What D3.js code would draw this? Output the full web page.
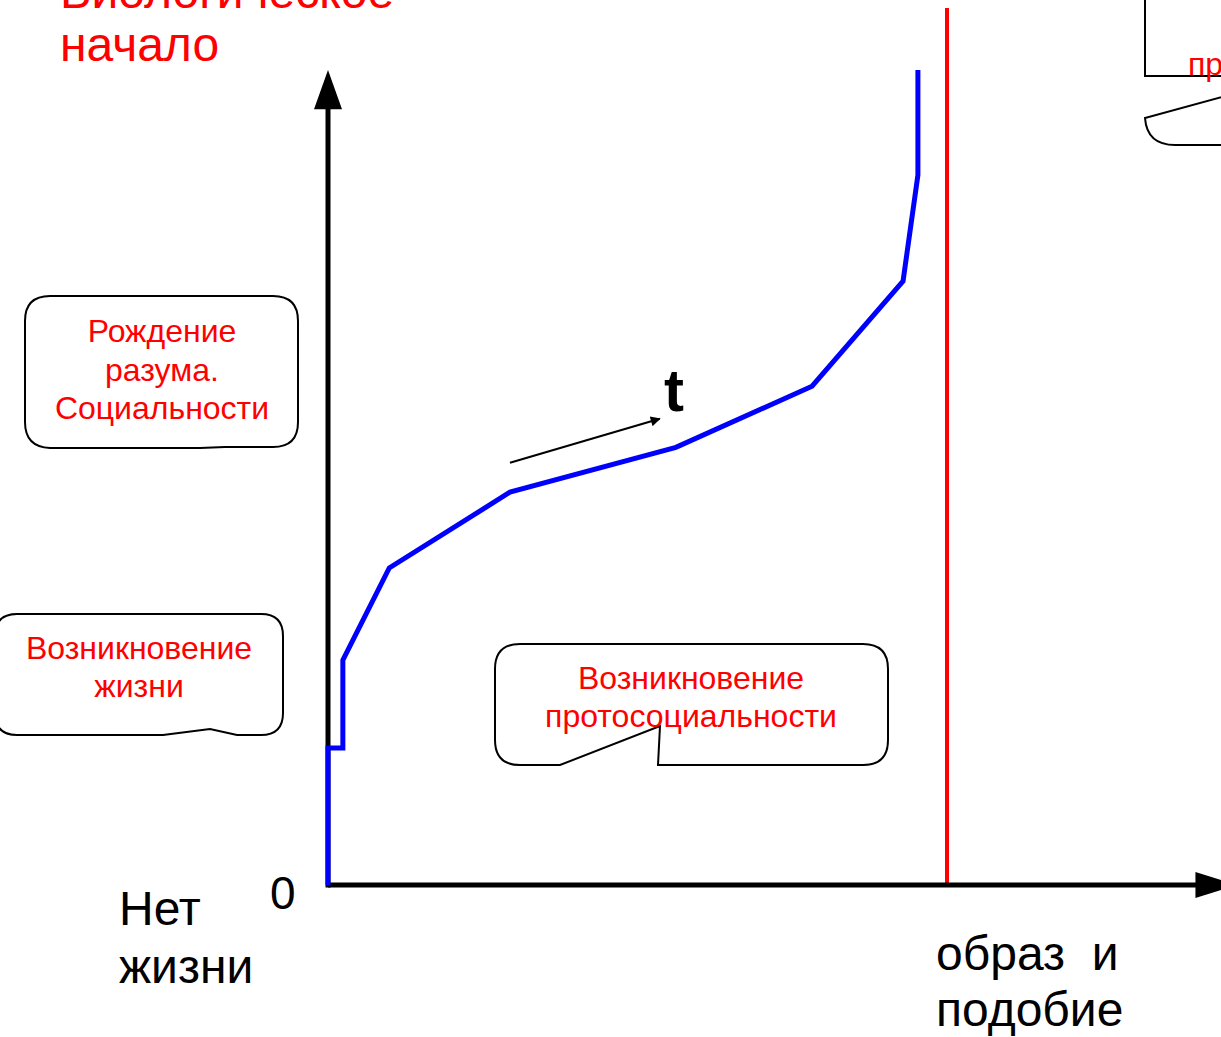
<!DOCTYPE html>
<html><head><meta charset="utf-8">
<script src="https://cdn.jsdelivr.net/npm/d3@7"></script>
<style>
html,body{margin:0;padding:0;background:#fff;overflow:hidden;}
svg{display:block;font-family:"Liberation Sans",Arial,sans-serif;}
text{white-space:pre;}
</style></head>
<body>
<svg id="chart" width="1221" height="1037"></svg>
<script>
// ---- data ----
const stageX = [0, 0, 2.4, 2.4, 9.9, 29.4, 56.2, 78.2, 92.9, 95.3, 95.3];
const stageY = [0, 16.8, 16.8, 27.6, 38.9, 48.2, 53.7, 61.2, 74.1, 87.1, 100];
const limitX = 100;           // "образ и подобие"
const limitTop = 107.6;
const originLabel = "0";
const xStartLabel = ["Нет", "жизни"];
const xLimitLabel = ["образ  и", "подобие"];
const yTitle = ["Биологическое", "начало"];
const timeLabel = "t";
const calloutLife = ["Возникновение", "жизни"];
const calloutMind = ["Рождение", "разума.", "Социальности"];
const calloutProto = ["Возникновение", "протосоциальности"];
const calloutTop = ["пр"];

const svg = d3.select("#chart");
const x = d3.scaleLinear().domain([0, 100]).range([328, 947]);
const y = d3.scaleLinear().domain([0, 100]).range([885, 70]);

// title (partly cut, as in the reference)
svg.append("g").selectAll("text").data(yTitle).join("text")
  .attr("x", 60).attr("y", (d, i) => 8 + i * 53)
  .attr("font-size", 48).attr("fill", "#ff0000").text(d => d);

// callout shapes
const ink = {fill: "#fff", stroke: "#000", "stroke-width": 2};
function shape(d) {
  const p = svg.append("path").attr("d", d);
  Object.entries(ink).forEach(([k, v]) => p.attr(k, v));
  return p;
}
shape("M50,296 H273 Q298,296 298,321 V422 Q298,447 273,447 H225 L200,448 H50 Q25,447 25,422 V321 Q25,296 50,296 Z");
shape("M17,614 H261 Q283,614 283,636 V713 Q283,735 261,735 H237 L210,729 L163,735 H17 Q-5,735 -5,713 V636 Q-5,614 17,614 Z");
shape("M520,644 H863 Q888,644 888,669 V740 Q888,765 863,765 H658 L660,726 L560,765 H520 Q495,765 495,740 V669 Q495,644 520,644 Z");
shape("M1240,-20 H1165 Q1145,-20 1145,0 V76 H1240");
shape("M1240,92 L1145,118 Q1147,145 1175,145 H1240");

function lines(arr, cx, y0, dy, size, color, anchor) {
  svg.append("g").selectAll("text").data(arr).join("text")
    .attr("x", cx).attr("y", (d, i) => y0 + i * dy)
    .attr("text-anchor", anchor || "middle")
    .attr("font-size", size).attr("fill", color).text(d => d);
}
lines(calloutMind, 162, 342, 38.5, 32, "#ff0000");
lines(calloutLife, 139, 659, 38, 32, "#ff0000");
lines(calloutProto, 691, 689, 38, 32, "#ff0000");
lines(calloutTop, 1188, 75, 38, 32, "#ff0000", "start");

// red limit line
svg.append("line")
  .attr("x1", x(limitX)).attr("x2", x(limitX))
  .attr("y1", y(0)).attr("y2", y(limitTop))
  .attr("stroke", "#ff0000").attr("stroke-width", 4);

// axes
const axisEndX = x(140.3), axisEndY = y(95.3);
svg.append("line").attr("x1", x(0)).attr("x2", axisEndX).attr("y1", y(0)).attr("y2", y(0))
  .attr("stroke", "#000").attr("stroke-width", 5);
svg.append("line").attr("x1", x(0)).attr("x2", x(0)).attr("y1", y(0) + 2.5).attr("y2", axisEndY)
  .attr("stroke", "#000").attr("stroke-width", 5);
svg.append("path").attr("fill", "#000")
  .attr("d", `M${x(0) - 14},${axisEndY + 1} L${x(0)},${y(100)} L${x(0) + 14},${axisEndY + 1} Z`);
svg.append("path").attr("fill", "#000")
  .attr("d", `M${axisEndX - 1},${y(0) - 13} L${axisEndX + 40},${y(0)} L${axisEndX - 1},${y(0) + 13} Z`);

// growth curve
const pts = stageX.map((v, i) => [v, stageY[i]]);
svg.append("path").datum(pts)
  .attr("d", d3.line().x(d => x(d[0])).y(d => y(d[1])))
  .attr("fill", "none").attr("stroke", "#0000ff").attr("stroke-width", 5)
  .attr("stroke-linejoin", "miter");

// time arrow
svg.append("defs").append("marker").attr("id", "ah")
  .attr("viewBox", "0 0 10 10").attr("refX", 9).attr("refY", 5)
  .attr("markerWidth", 7).attr("markerHeight", 5).attr("orient", "auto")
  .attr("markerUnits", "strokeWidth")
  .append("path").attr("d", "M0,0 L10,5 L0,10 Z").attr("fill", "#000");
svg.append("line").attr("x1", x(29.4)).attr("y1", y(51.8)).attr("x2", x(53.6)).attr("y2", y(57.2))
  .attr("stroke", "#000").attr("stroke-width", 2).attr("marker-end", "url(#ah)");
svg.append("text").attr("x", 664).attr("y", 411).attr("font-size", 60)
  .attr("font-weight", "bold").attr("fill", "#000").text(timeLabel);

// axis labels
svg.append("text").attr("x", 270).attr("y", 909).attr("font-size", 46).text(originLabel);
lines(xStartLabel, 119, 925, 58, 48, "#000", "start");
lines(xLimitLabel, 936, 970, 56, 48, "#000", "start");
</script>
</body></html>
